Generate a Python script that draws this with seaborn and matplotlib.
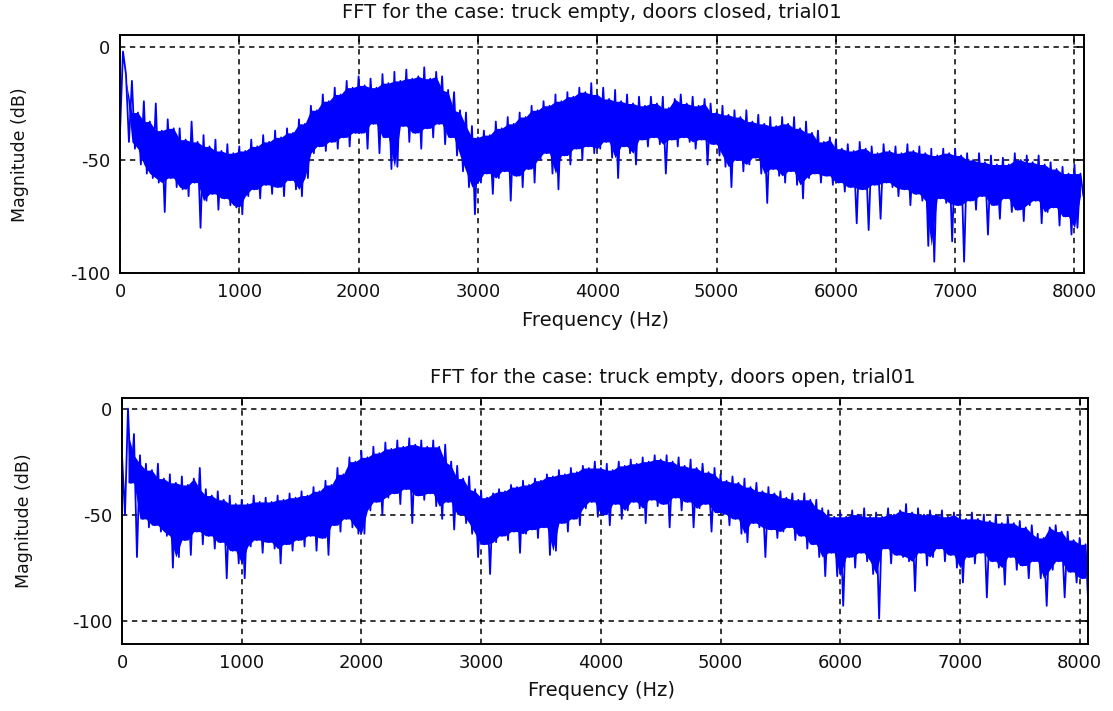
import numpy as np
import pandas as pd
import matplotlib
matplotlib.use("Agg")
import matplotlib.pyplot as plt
import seaborn as sns

# ---------------- data ----------------
BIN_HZ = 25.0  # spacing of the plotted FFT bins (Hz)

title_closed = "FFT for the case: truck empty, doors closed, trial01"
title_open = "FFT for the case: truck empty, doors open, trial01"
x_label = "Frequency (Hz)"
y_label = "Magnitude (dB)"
x_ticks = [0, 1000, 2000, 3000, 4000, 5000, 6000, 7000, 8000]
y_ticks = [-100, -50, 0]

# magnitude (dB), doors closed; 20 bins per row = 500 Hz (peak, trough, peak, ...)
mag_closed = [
    -38, -2, -12, -42, -15, -45, -29, -52, -24, -56, -33, -58, -25, -60, -37, -73, -32, -58, -36, -62,
    -36, -63, -41, -66, -33, -60, -42, -80, -39, -68, -44, -65, -41, -72, -46, -67, -43, -70, -47, -71,
    -44, -74, -46, -66, -41, -63, -44, -67, -39, -61, -42, -65, -37, -62, -40, -66, -36, -59, -38, -63,
    -32, -66, -34, -58, -26, -47, -28, -44, -21, -46, -24, -42, -18, -45, -21, -40, -15, -44, -18, -38,
    -13, -38, -17, -45, -14, -34, -18, -47, -12, -40, -16, -54, -11, -53, -15, -35, -10, -42, -14, -38,
    -13, -45, -9, -36, -14, -40, -11, -34, -13, -43, -19, -40, -20, -48, -28, -55, -29, -62, -35, -74,
    -40, -60, -37, -56, -39, -65, -33, -58, -36, -55, -31, -68, -34, -57, -29, -62, -31, -54, -26, -60,
    -28, -50, -24, -47, -26, -56, -21, -63, -24, -48, -20, -52, -22, -45, -18, -50, -20, -44, -16, -47,
    -21, -45, -18, -42, -23, -49, -19, -58, -24, -44, -21, -47, -25, -52, -22, -41, -26, -44, -22, -40,
    -25, -43, -22, -56, -27, -41, -23, -44, -21, -40, -25, -42, -22, -45, -26, -41, -23, -52, -25, -43,
    -29, -48, -26, -53, -30, -62, -28, -50, -31, -55, -28, -52, -33, -49, -30, -56, -34, -69, -31, -54,
    -35, -57, -31, -60, -34, -55, -31, -61, -36, -67, -33, -58, -38, -56, -37, -60, -42, -57, -40, -61,
    -41, -60, -45, -64, -43, -62, -46, -78, -42, -63, -45, -81, -44, -61, -47, -76, -43, -60, -46, -62,
    -44, -66, -47, -63, -43, -70, -46, -65, -44, -68, -47, -88, -45, -95, -48, -67, -45, -69, -47, -86,
    -45, -70, -48, -95, -47, -68, -50, -72, -47, -66, -51, -83, -48, -70, -52, -76, -49, -67, -52, -73,
    -47, -72, -50, -77, -48, -70, -51, -68, -48, -78, -52, -73, -51, -71, -54, -79, -53, -75, -56, -83,
    -52, -80, -56, -66,
]

# magnitude (dB), doors open; 20 bins per row = 500 Hz (peak, trough, peak, ...)
mag_open = [
    -22, -50, 0, -35, -12, -70, -22, -52, -26, -56, -29, -55, -26, -58, -33, -60, -31, -75, -35, -70,
    -32, -62, -36, -69, -33, -58, -28, -64, -38, -60, -41, -66, -39, -63, -43, -80, -41, -67, -45, -73,
    -43, -80, -45, -65, -41, -62, -44, -68, -42, -63, -44, -66, -41, -73, -43, -64, -40, -67, -42, -62,
    -39, -65, -41, -60, -37, -67, -39, -61, -34, -69, -36, -55, -28, -58, -31, -52, -23, -56, -25, -59,
    -20, -59, -23, -48, -18, -44, -21, -50, -16, -42, -19, -40, -15, -45, -18, -38, -14, -54, -17, -41,
    -15, -43, -18, -40, -15, -46, -18, -52, -17, -44, -25, -57, -27, -50, -33, -54, -32, -59, -38, -70,
    -39, -64, -42, -78, -40, -63, -38, -60, -39, -62, -36, -58, -37, -68, -34, -59, -36, -57, -33, -61,
    -34, -56, -31, -69, -32, -67, -29, -54, -31, -58, -28, -52, -30, -55, -27, -47, -28, -44, -25, -51,
    -28, -50, -26, -55, -29, -45, -25, -52, -27, -48, -24, -44, -26, -47, -23, -54, -25, -43, -22, -46,
    -24, -45, -22, -56, -25, -42, -23, -48, -27, -44, -24, -56, -28, -47, -26, -45, -30, -58, -28, -49,
    -31, -50, -34, -55, -32, -52, -35, -59, -33, -63, -37, -54, -35, -56, -39, -70, -37, -57, -40, -61,
    -39, -58, -42, -56, -40, -62, -43, -60, -40, -66, -43, -64, -43, -70, -47, -79, -48, -68, -51, -79,
    -49, -93, -51, -70, -48, -75, -50, -68, -47, -72, -51, -78, -49, -99, -51, -66, -47, -73, -50, -69,
    -48, -70, -45, -72, -49, -86, -47, -68, -50, -74, -48, -70, -50, -66, -48, -72, -51, -69, -49, -75,
    -50, -82, -52, -70, -49, -73, -52, -68, -50, -89, -53, -72, -50, -75, -54, -83, -51, -70, -54, -76,
    -53, -74, -56, -80, -55, -72, -59, -80, -61, -93, -56, -76, -55, -72, -58, -89, -58, -77, -62, -82,
    -61, -80, -64, -96,
]

# ---------------- figure ----------------
sns.set_style("white")
plt.rcParams["font.family"] = ["DejaVu Sans"]
plt.rcParams["axes.unicode_minus"] = False

W, H = 1113, 711
BLUE = "#0000ff"
fig = plt.figure(figsize=(W / 100, H / 100), dpi=100)


def px_axes(left, top, right, bottom):
    return fig.add_axes([left / W, 1 - bottom / H, (right - left) / W, (bottom - top) / H])


panels = [
    dict(mag=mag_closed, title=title_closed, rect=(120, 35, 1084, 273),
         xlim=(0, 8080), ylim=(-100, 5.3), title_xy=(592, 13),
         xlabel_xy=(596, 320), ylabel_xy=(20, 155)),
    dict(mag=mag_open, title=title_open, rect=(122, 398, 1088, 644),
         xlim=(0, 8070), ylim=(-111, 5.0), title_xy=(673, 378),
         xlabel_xy=(601, 690), ylabel_xy=(24, 521)),
]

for p in panels:
    ax = px_axes(*p["rect"])
    mag = np.asarray(p["mag"], dtype=float)
    freq = np.arange(len(mag)) * BIN_HZ
    df = pd.DataFrame({"freq": freq, "mag": mag})

    # dense body of the spectrum: between the lower of two neighbouring peaks
    # and the shallower of two neighbouring troughs (isolated dips stay as spikes)
    pk_f, pk = freq[0::2], mag[0::2]
    tr = mag[1::2]
    body_low = np.maximum(tr, np.concatenate([tr[:1], tr[:-1]]))
    body_high = np.minimum(pk, np.concatenate([pk[1:], pk[-1:]]))
    body_low = np.minimum(body_low, body_high)
    ax.fill_between(pk_f[1:], body_high[1:], body_low[1:], color=BLUE, linewidth=0)

    sns.lineplot(data=df, x="freq", y="mag", ax=ax, color=BLUE,
                 linewidth=1.3, sort=False, estimator=None)
    ax.set_xlim(*p["xlim"])
    ax.set_ylim(*p["ylim"])
    ax.set_xticks(x_ticks)
    ax.set_yticks(y_ticks)
    ax.set_xlabel("")
    ax.set_ylabel("")
    ax.set_axisbelow(True)
    ax.grid(True, color="black", linestyle=(0, (3.5, 3)), linewidth=1.1)
    for s in ax.spines.values():
        s.set_visible(True)
        s.set_color("black")
        s.set_linewidth(1.4)
        s.set_zorder(5)
    ax.tick_params(direction="in", length=5, width=1.2, color="black",
                   top=True, right=True, labelsize=13, labelcolor="#111111", pad=7)
    fig.text(p["title_xy"][0] / W, 1 - p["title_xy"][1] / H, p["title"],
             ha="center", va="center", fontsize=14, color="#111111")
    fig.text(p["xlabel_xy"][0] / W, 1 - p["xlabel_xy"][1] / H, x_label,
             ha="center", va="center", fontsize=14, color="#111111")
    fig.text(p["ylabel_xy"][0] / W, 1 - p["ylabel_xy"][1] / H, y_label,
             ha="center", va="center", rotation=90, fontsize=12.5, color="#111111")

fig.savefig("out.png", dpi=100)
